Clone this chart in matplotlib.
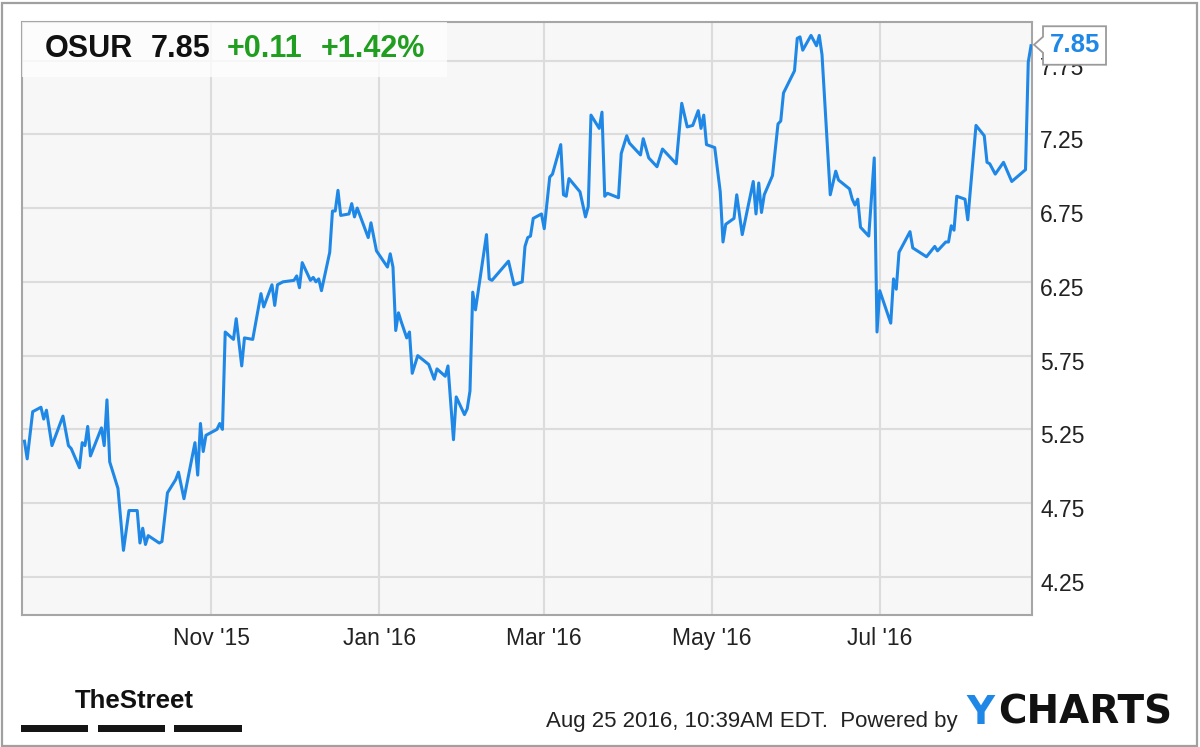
import matplotlib
matplotlib.use("Agg")
import matplotlib.pyplot as plt
import matplotlib.dates as mdates
import matplotlib.transforms as mtransforms
from matplotlib.patches import Rectangle, Polygon
import pandas as pd

# ---------------- data ----------------
ticker = "OSUR"
last_price = 7.85
change = "+0.11"
change_pct = "+1.42%"
timestamp = "Aug 25 2016, 10:39AM EDT."

dates = [
    "2015-08-25", "2015-08-26", "2015-08-28", "2015-08-31", "2015-09-01", "2015-09-02",
    "2015-09-04", "2015-09-08", "2015-09-10", "2015-09-11", "2015-09-14", "2015-09-15",
    "2015-09-16", "2015-09-17", "2015-09-18", "2015-09-22", "2015-09-23", "2015-09-24",
    "2015-09-25", "2015-09-28", "2015-09-30", "2015-10-02", "2015-10-05", "2015-10-06",
    "2015-10-07", "2015-10-08", "2015-10-09", "2015-10-13", "2015-10-14", "2015-10-16",
    "2015-10-19", "2015-10-20", "2015-10-22", "2015-10-26", "2015-10-27", "2015-10-28",
    "2015-10-29", "2015-10-30", "2015-11-03", "2015-11-04", "2015-11-05", "2015-11-06",
    "2015-11-09", "2015-11-10", "2015-11-12", "2015-11-13", "2015-11-16", "2015-11-19",
    "2015-11-20", "2015-11-23", "2015-11-24", "2015-11-25", "2015-11-27", "2015-12-01",
    "2015-12-02", "2015-12-03", "2015-12-04", "2015-12-07", "2015-12-08", "2015-12-09",
    "2015-12-10", "2015-12-11", "2015-12-14", "2015-12-15", "2015-12-16", "2015-12-17",
    "2015-12-18", "2015-12-21", "2015-12-22", "2015-12-23", "2015-12-24", "2015-12-26",
    "2015-12-28", "2015-12-29", "2015-12-31", "2016-01-04", "2016-01-05", "2016-01-06",
    "2016-01-07", "2016-01-08", "2016-01-09", "2016-01-11", "2016-01-12", "2016-01-13",
    "2016-01-15", "2016-01-19", "2016-01-21", "2016-01-22", "2016-01-25", "2016-01-26",
    "2016-01-28", "2016-01-29", "2016-02-01", "2016-02-02", "2016-02-03", "2016-02-04",
    "2016-02-05", "2016-02-09", "2016-02-10", "2016-02-11", "2016-02-17", "2016-02-19",
    "2016-02-22", "2016-02-23", "2016-02-24", "2016-02-25", "2016-02-26", "2016-02-29",
    "2016-03-01", "2016-03-03", "2016-03-04", "2016-03-07", "2016-03-08", "2016-03-09",
    "2016-03-10", "2016-03-14", "2016-03-16", "2016-03-17", "2016-03-18", "2016-03-21",
    "2016-03-22", "2016-03-23", "2016-03-24", "2016-03-28", "2016-03-29", "2016-03-31",
    "2016-04-01", "2016-04-05", "2016-04-06", "2016-04-08", "2016-04-11", "2016-04-13",
    "2016-04-18", "2016-04-20", "2016-04-22", "2016-04-24", "2016-04-26", "2016-04-27",
    "2016-04-28", "2016-04-29", "2016-05-02", "2016-05-04", "2016-05-05", "2016-05-06",
    "2016-05-09", "2016-05-10", "2016-05-12", "2016-05-16", "2016-05-17", "2016-05-18",
    "2016-05-19", "2016-05-20", "2016-05-23", "2016-05-25", "2016-05-26", "2016-05-27",
    "2016-05-31", "2016-06-01", "2016-06-02", "2016-06-03", "2016-06-06", "2016-06-08",
    "2016-06-09", "2016-06-10", "2016-06-13", "2016-06-15", "2016-06-16", "2016-06-20",
    "2016-06-21", "2016-06-22", "2016-06-23", "2016-06-24", "2016-06-27", "2016-06-29",
    "2016-06-30", "2016-07-01", "2016-07-05", "2016-07-06", "2016-07-07", "2016-07-08",
    "2016-07-12", "2016-07-13", "2016-07-18", "2016-07-21", "2016-07-22", "2016-07-25",
    "2016-07-26", "2016-07-27", "2016-07-28", "2016-07-29", "2016-08-01", "2016-08-02",
    "2016-08-05", "2016-08-08", "2016-08-09", "2016-08-10", "2016-08-12", "2016-08-15",
    "2016-08-18", "2016-08-23", "2016-08-24", "2016-08-25",
]

prices = [
    5.17, 5.05, 5.37, 5.40, 5.32, 5.38,
    5.14, 5.34, 5.14, 5.12, 4.99, 5.16,
    5.14, 5.27, 5.07, 5.26, 5.14, 5.45,
    5.03, 4.85, 4.43, 4.70, 4.70, 4.48,
    4.58, 4.47, 4.53, 4.48, 4.49, 4.82,
    4.91, 4.96, 4.78, 5.16, 4.94, 5.29,
    5.10, 5.21, 5.25, 5.29, 5.25, 5.91,
    5.86, 6.00, 5.68, 5.87, 5.86, 6.17,
    6.08, 6.23, 6.09, 6.23, 6.25, 6.26,
    6.29, 6.21, 6.38, 6.26, 6.28, 6.25,
    6.27, 6.19, 6.45, 6.73, 6.73, 6.87,
    6.70, 6.71, 6.78, 6.69, 6.75, 6.65,
    6.55, 6.65, 6.46, 6.35, 6.44, 6.35,
    5.92, 6.04, 5.98, 5.87, 5.91, 5.63,
    5.75, 5.69, 5.59, 5.66, 5.61, 5.68,
    5.18, 5.47, 5.35, 5.39, 5.51, 6.18,
    6.06, 6.57, 6.27, 6.26, 6.39, 6.23,
    6.25, 6.49, 6.55, 6.56, 6.68, 6.71,
    6.61, 6.96, 6.98, 7.18, 6.84, 6.83,
    6.95, 6.86, 6.69, 6.76, 7.38, 7.29,
    7.40, 6.83, 6.85, 6.82, 7.12, 7.24,
    7.19, 7.11, 7.22, 7.09, 7.03, 7.15,
    7.05, 7.46, 7.30, 7.31, 7.41, 7.29,
    7.38, 7.18, 7.16, 6.86, 6.52, 6.64,
    6.68, 6.84, 6.57, 6.93, 6.71, 6.92,
    6.72, 6.84, 6.97, 7.32, 7.34, 7.53,
    7.68, 7.90, 7.91, 7.82, 7.92, 7.85,
    7.92, 7.79, 6.84, 7.00, 6.94, 6.88,
    6.81, 6.77, 6.81, 6.62, 6.56, 7.09,
    5.91, 6.19, 5.97, 6.27, 6.20, 6.45,
    6.59, 6.48, 6.42, 6.49, 6.46, 6.52,
    6.52, 6.63, 6.60, 6.83, 6.81, 6.67,
    7.31, 7.24, 7.06, 7.05, 6.98, 7.06,
    6.93, 7.01, 7.74, 7.85,
]

y_ticks = [4.25, 4.75, 5.25, 5.75, 6.25, 6.75, 7.25, 7.75]
x_tick_dates = ["2015-11-01", "2016-01-01", "2016-03-01", "2016-05-01", "2016-07-01"]
x_tick_labels = ["Nov '15", "Jan '16", "Mar '16", "May '16", "Jul '16"]

# ---------------- style ----------------
LINE_BLUE = "#1f88e6"
GREEN = "#1f9e1f"
GRID = "#dcdcdc"
SPINE = "#a6a6a6"
W, H = 1200, 747

plt.rcParams["font.family"] = ["Liberation Sans", "DejaVu Sans"]

fig = plt.figure(figsize=(W / 100, H / 100), dpi=100)
fig.patch.set_facecolor("white")

# axes placement in pixels
L, R, T, B = 21.7, 1031.7, 21.7, 615.0
ax = fig.add_axes([L / W, 1 - B / H, (R - L) / W, (B - T) / H])
ax.set_facecolor("#f7f7f7")

x = pd.to_datetime(dates)
ax.plot(x, prices, color=LINE_BLUE, lw=2.2, solid_joinstyle="round", zorder=3)

ax.set_xlim(pd.Timestamp("2015-08-24"), pd.Timestamp("2016-08-25 06:00"))
ax.set_ylim(3.992, 8.013)

ax.set_yticks(y_ticks)
ax.set_yticklabels([f"{v:.2f}" for v in y_ticks])
ax.set_xticks(pd.to_datetime(x_tick_dates))
ax.set_xticklabels(x_tick_labels)

ax.yaxis.tick_right()
ax.tick_params(axis="both", length=0, labelsize=16.5, colors="#222222")
ax.tick_params(axis="y", pad=6)
ax.tick_params(axis="x", pad=8.5)
# labels sit slightly below their gridlines
off = mtransforms.ScaledTranslation(0, -5 / 100, fig.dpi_scale_trans)
for lab in ax.get_yticklabels():
    lab.set_transform(lab.get_transform() + off)

ax.grid(True, color=GRID, lw=1.5)
ax.set_axisbelow(True)
for s in ax.spines.values():
    s.set_color(SPINE)
    s.set_linewidth(1.5)

# ---- legend header box (semi-transparent white) ----
hdr = Rectangle((L / W, 1 - 76.7 / H), (446.7 - L) / W, (76.7 - T) / H,
                transform=fig.transFigure, facecolor="white", alpha=0.75,
                edgecolor="none", zorder=4)
ax.add_artist(hdr)
hdr.set_clip_on(False)

ty = 1 - 49 / H
hdr_kw = dict(fontsize=22, fontweight="bold", va="center", ha="left", zorder=6)
fig.text(45 / W, ty, ticker, color="#111111", **hdr_kw)
fig.text(151 / W, ty, f"{last_price:.2f}", color="#111111", **hdr_kw)
fig.text(227 / W, ty, change, color=GREEN, **hdr_kw)
fig.text(321 / W, ty, change_pct, color=GREEN, **hdr_kw)

# ---- last value callout, anchored to the last data point ----
trans = fig.dpi_scale_trans + mtransforms.ScaledTranslation(
    mdates.date2num(x[-1]), prices[-1], ax.transData)
px = 1 / 100  # one pixel in inches
call = [(3 * px, 1 * px), (12 * px, 9 * px), (12 * px, 19.5 * px), (75 * px, 19.5 * px),
        (75 * px, -19 * px), (12 * px, -19 * px), (12 * px, -7 * px)]
poly = Polygon(call, closed=True, transform=trans, facecolor="white",
               edgecolor="#9a9a9a", lw=1.3, zorder=10, clip_on=False)
ax.add_artist(poly)
ax.text(44 * px, 0.5 * px, f"{last_price:.2f}", transform=trans, fontsize=18.5,
        fontweight="bold", color=LINE_BLUE, ha="center", va="center",
        zorder=11, clip_on=False)

# ---- footer ----
fig.text(75 / W, 1 - 701 / H, "TheStreet", fontsize=18.5, fontweight="bold",
         color="#111111", va="center", ha="left")
for x0, x1 in [(20.7, 88.3), (97.7, 165.0), (174.3, 241.7)]:
    fig.patches.append(Rectangle((x0 / W, 1 - 731.7 / H), (x1 - x0) / W, 6.7 / H,
                                 transform=fig.transFigure, facecolor="#151515",
                                 edgecolor="none"))

fig.text(958 / W, 1 - 721 / H, f"{timestamp}  Powered by", fontsize=16,
         color="#222222", va="center", ha="right")
fig.text(966 / W, 1 - 713 / H, "Y", fontsize=28, fontweight="bold",
         family=["DejaVu Sans"], color="#1f88e6", va="center", ha="left")
fig.text(998 / W, 1 - 713 / H, "CHARTS", fontsize=28, fontweight="bold",
         family=["DejaVu Sans"], color="#111111", va="center", ha="left")

# outer frame
fig.patches.append(Rectangle((1.5 / W, 1.5 / H), (W - 4.5) / W, (H - 4) / H,
                             transform=fig.transFigure, facecolor="none",
                             edgecolor="#a0a0a0", lw=1.6))

fig.savefig("out.png", dpi=100, facecolor="white")
